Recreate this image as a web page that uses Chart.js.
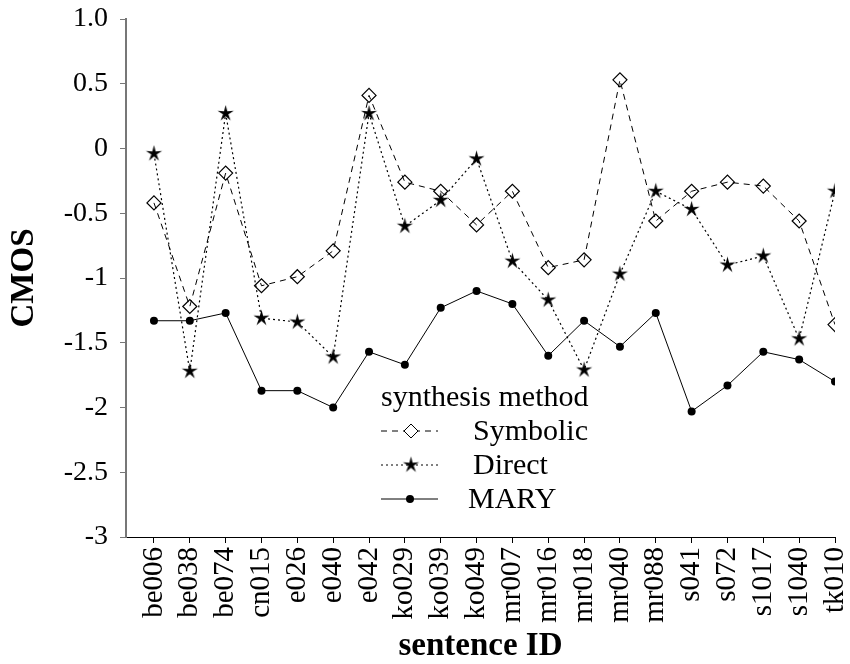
<!DOCTYPE html>
<html>
<head>
<meta charset="utf-8">
<script src="https://cdn.jsdelivr.net/npm/chart.js@4"></script>
<style>
  body { margin: 0; background: #fff; }
  #wrap { width: 850px; height: 664px; }
</style>
</head>
<body>
<div id="wrap"><canvas id="myChart" width="850" height="664"></canvas></div>
<script>
const sentenceIds = ['be006', 'be038', 'be074', 'cn015', 'e026', 'e040', 'e042', 'ko029', 'ko039', 'ko049',
  'mr007', 'mr016', 'mr018', 'mr040', 'mr088', 's041', 's072', 's1017', 's1040', 'tk010'];
const symbolicScores = [-0.42, -1.22, -0.19, -1.06, -0.99, -0.79, 0.41, -0.26, -0.33, -0.59,
  -0.33, -0.92, -0.86, 0.53, -0.56, -0.33, -0.26, -0.29, -0.56, -1.36];
const directScores = [-0.04, -1.72, 0.27, -1.31, -1.34, -1.61, 0.27, -0.60, -0.40, -0.08,
  -0.87, -1.17, -1.71, -0.97, -0.33, -0.47, -0.90, -0.83, -1.47, -0.33];
const maryScores = [-1.33, -1.33, -1.27, -1.87, -1.87, -2.00, -1.57, -1.67, -1.23, -1.10,
  -1.20, -1.60, -1.33, -1.53, -1.27, -2.03, -1.83, -1.57, -1.63, -1.80];
const yTicks = [-3, -2.5, -2, -1.5, -1, -0.5, 0, 0.5, 1];

const serif = '"Liberation Serif", "DejaVu Serif", serif';
const ctx = document.getElementById('myChart').getContext('2d');

// filled five-point star used as the Direct marker
function makeStar(outer, inner) {
  const c = document.createElement('canvas');
  const s = Math.ceil(outer * 2 + 2);
  c.width = s; c.height = s;
  const g = c.getContext('2d');
  g.translate(s / 2, s / 2);
  g.beginPath();
  for (let i = 0; i < 10; i++) {
    const r = i % 2 === 0 ? outer : inner;
    const a = -Math.PI / 2 + i * Math.PI / 5;
    g.lineTo(r * Math.cos(a), r * Math.sin(a));
  }
  g.closePath();
  g.fillStyle = '#000';
  g.fill();
  return c;
}
const starImg = makeStar(8.5, 2.8);

const toPoints = arr => arr.map((v, i) => ({ x: i, y: v }));

const legendEntries = [
  { label: 'Symbolic', dash: [6, 5], marker: 'diamond' },
  { label: 'Direct', dash: [2, 3], marker: 'star' },
  { label: 'MARY', dash: [], marker: 'circle' }
];

const innerLegend = {
  id: 'innerLegend',
  afterDraw(chart) {
    const c = chart.ctx;
    c.save();
    c.fillStyle = '#000';
    c.font = '30px ' + serif;
    c.textBaseline = 'middle';
    c.textAlign = 'left';
    c.fillText('synthesis method', 381, 398);
    legendEntries.forEach((e, i) => {
      const y = 431 + i * 34;
      c.strokeStyle = '#000';
      c.lineWidth = 1;
      c.setLineDash(e.dash);
      c.beginPath();
      c.moveTo(381, y);
      c.lineTo(438, y);
      c.stroke();
      c.setLineDash([]);
      if (e.marker === 'diamond') {
        c.beginPath();
        c.moveTo(411, y - 7); c.lineTo(418, y); c.lineTo(411, y + 7); c.lineTo(404, y);
        c.closePath();
        c.fillStyle = '#fff';
        c.fill();
        c.stroke();
      } else if (e.marker === 'star') {
        c.drawImage(starImg, 411 - starImg.width / 2, y - starImg.height / 2);
      } else {
        c.beginPath();
        c.arc(410, y, 4, 0, Math.PI * 2);
        c.fillStyle = '#000';
        c.fill();
      }
      c.fillStyle = '#000';
      c.fillText(e.label, e.label === 'MARY' ? 468 : 473, y + 1);
    });
    c.restore();
  }
};

new Chart(ctx, {
  type: 'line',
  data: {
    datasets: [
      {
        label: 'Symbolic',
        data: toPoints(symbolicScores),
        borderColor: '#000',
        borderWidth: 1,
        borderDash: [6, 5],
        pointStyle: 'rectRot',
        pointRadius: 7,
        pointBorderWidth: 1.2,
        pointBorderColor: '#000',
        pointBackgroundColor: 'rgba(0,0,0,0)'
      },
      {
        label: 'Direct',
        data: toPoints(directScores),
        borderColor: '#000',
        borderWidth: 1.2,
        borderDash: [2, 3],
        pointStyle: starImg,
        pointRadius: 9
      },
      {
        label: 'MARY',
        data: toPoints(maryScores),
        borderColor: '#000',
        borderWidth: 1,
        pointStyle: 'circle',
        pointRadius: 4,
        pointBorderWidth: 0,
        pointBackgroundColor: '#000'
      }
    ]
  },
  options: {
    responsive: false,
    animation: false,
    layout: { padding: { top: 19, right: 15, left: 0, bottom: 0 } },
    plugins: { legend: { display: false }, tooltip: { enabled: false } },
    scales: {
      x: {
        type: 'linear',
        min: -0.78,
        max: 19,
        afterBuildTicks: axis => { axis.ticks = sentenceIds.map((_, i) => ({ value: i })); },
        afterFit: scale => {
          scale.height = 127;
          scale.paddingLeft = 0;
          scale.paddingRight = 0;
        },
        border: { display: true, color: '#000', width: 1 },
        grid: { drawOnChartArea: false, drawTicks: true, tickLength: 6, color: '#000' },
        ticks: {
          autoSkip: false,
          minRotation: 90,
          maxRotation: 90,
          padding: 4,
          color: '#000',
          font: { family: serif, size: 29 },
          callback: v => sentenceIds[v]
        },
        title: {
          display: true,
          text: 'sentence ID',
          color: '#000',
          font: { family: serif, size: 33, weight: 'bold', lineHeight: 1.05 },
          padding: { top: 0, bottom: 0 }
        }
      },
      y: {
        min: -3,
        max: 1,
        afterBuildTicks: axis => { axis.ticks = yTicks.map(v => ({ value: v })); },
        afterFit: scale => {
          scale.width = 126;
          scale.paddingTop = 0;
          scale.paddingBottom = 0;
        },
        border: { display: true, color: '#777', width: 2 },
        grid: { drawOnChartArea: false, drawTicks: true, tickLength: 6, color: '#777' },
        ticks: {
          padding: 12,
          color: '#000',
          font: { family: serif, size: 28 },
          callback: v => v === 1 ? '1.0' : String(v)
        },
        title: {
          display: true,
          text: 'CMOS',
          color: '#000',
          font: { family: serif, size: 33, weight: 'bold' },
          padding: { top: 5, bottom: 0 }
        }
      }
    }
  },
  plugins: [innerLegend]
});
</script>
</body>
</html>
